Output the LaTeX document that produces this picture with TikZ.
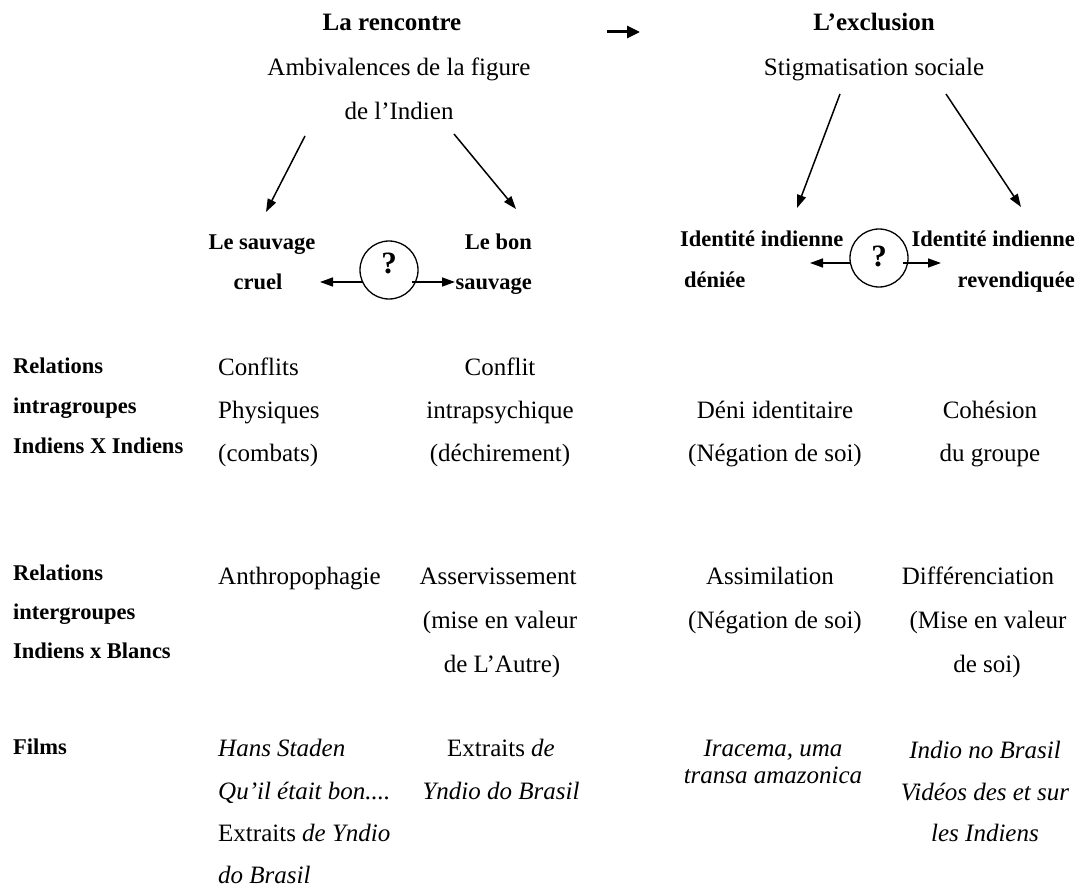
\documentclass[tikz,border=0pt]{standalone}
\usepackage{fontspec}
\setmainfont{Liberation Serif}
\usetikzlibrary{arrows.meta}
\begin{document}
\begin{tikzpicture}[x=1pt,y=-1pt,
  txt/.style={inner sep=0pt, anchor=base, font=\fontsize{25}{30}\selectfont},
  txtl/.style={txt, anchor=base west},
  ttl/.style={txt, font=\fontsize{25}{30}\selectfont\bfseries},
  lbl/.style={inner sep=0pt, anchor=base, font=\fontsize{22.5}{27}\selectfont\bfseries},
  rowlbl/.style={lbl, anchor=base west},
  ring/.style={draw, circle, line width=1.3pt, minimum size=#1, inner sep=0pt},
  qmark/.style={inner sep=0pt, font=\fontsize{31}{36}\selectfont\bfseries},
  arr/.style={-{Triangle[length=13pt,width=9pt]}, line width=1.5pt},
  harr/.style={-{Triangle[length=13pt,width=12pt]}, line width=3pt}
]
\useasboundingbox (0,0) rectangle (1085,888);

% titles
\node[ttl] (t1) at (392,31) {La rencontre};
\node[ttl] (t2) at (874,31) {L’exclusion};
\coordinate (h1) at (607,32);
\coordinate (h2) at (640,32);
\draw[harr] (h1) -- (h2);
\node[txt] (a1) at (399,76) {Ambivalences de la figure};
\node[txt] (a2) at (399,120) {de l’Indien};
\node[txt] (s1) at (874,76) {Stigmatisation sociale};

% diagonal arrows
\coordinate (d1s) at (305,136);
\coordinate (d1e) at (266,212);
\coordinate (d2s) at (454,134);
\coordinate (d2e) at (516,209);
\coordinate (d3s) at (840,94);
\coordinate (d3e) at (797,208);
\coordinate (d4s) at (946,94);
\coordinate (d4e) at (1021,207);
\draw[arr] (d1s) -- (d1e);
\draw[arr] (d2s) -- (d2e);
\draw[arr] (d3s) -- (d3e);
\draw[arr] (d4s) -- (d4e);

% bold labels
\node[lbl] (l1a) at (262,249) {Le sauvage};
\node[lbl] (l1b) at (258,289) {cruel};
\node[lbl, anchor=base east] (l2a) at (532,249) {Le bon};
\node[lbl, anchor=base east] (l2b) at (532,289) {sauvage};
\node[lbl, anchor=base west] (l3a) at (680,247) {Identité indienne};
\node[lbl, anchor=base west] (l3b) at (684,287) {déniée};
\node[lbl, anchor=base east] (l4a) at (1075,247) {Identité indienne};
\node[lbl, anchor=base east] (l4b) at (1075,287) {revendiquée};

% question circles
\node[ring=58pt] (c1) at (389,270) {};
\node[qmark] (q1) at ([yshift=7pt]c1.center) {?};
\node[ring=58pt] (c2) at (879,258) {};
\node[qmark] (q2) at ([yshift=2pt]c2.center) {?};
\coordinate (c1w) at ([xshift=-26pt,yshift=-12pt]c1.center);
\coordinate (c1e) at ([xshift=23pt,yshift=-12pt]c1.center);
\coordinate (c2w) at ([xshift=-29pt,yshift=-5pt]c2.center);
\coordinate (c2e) at ([xshift=24pt,yshift=-5pt]c2.center);
\coordinate (c1l) at (320,282);
\coordinate (c1r) at (455,282);
\coordinate (c2l) at (810,263);
\coordinate (c2r) at (941,263);
\draw[arr] (c1w) -- (c1l);
\draw[arr] (c1e) -- (c1r);
\draw[arr] (c2w) -- (c2l);
\draw[arr] (c2e) -- (c2r);

% row labels
\node[rowlbl] (r1a) at (13,373) {Relations};
\node[rowlbl] (r1b) at (13,413) {intragroupes};
\node[rowlbl] (r1c) at (13,453) {Indiens X Indiens};
\node[rowlbl] (r2a) at (13,580) {Relations};
\node[rowlbl] (r2b) at (13,619) {intergroupes};
\node[rowlbl] (r2c) at (13,658) {Indiens x Blancs};
\node[rowlbl] (r3a) at (13,754) {Films};

% row 1
\node[txtl] (p1) at (218,375) {Conflits};
\node[txtl] (p2) at (218,418) {Physiques};
\node[txtl] (p3) at (218,461) {(combats)};
\node[txt] (p4) at (500,375) {Conflit};
\node[txt] (p5) at (500,418) {intrapsychique};
\node[txt] (p6) at (500,461) {(déchirement)};
\node[txt] (p7) at (775,418) {Déni identitaire};
\node[txt] (p8) at (775,461) {(Négation de soi)};
\node[txt] (p9) at (990,418) {Cohésion};
\node[txt] (p10) at (990,461) {du groupe};

% row 2
\node[txtl] (e1) at (218,584) {Anthropophagie};
\node[txt] (e2) at (498,584) {Asservissement};
\node[txt] (e3) at (500,628) {(mise en valeur};
\node[txt] (e4) at (502,672) {de L’Autre)};
\node[txt] (e5) at (770,584) {Assimilation};
\node[txt] (e6) at (775,628) {(Négation de soi)};
\node[txt] (e7) at (978,584) {Différenciation};
\node[txt] (e8) at (988,628) {(Mise en valeur};
\node[txt] (e9) at (987,672) {de soi)};

% films
\node[txtl] (f1) at (218,756) {\itshape Hans Staden};
\node[txtl] (f2) at (218,799) {\itshape Qu’il était bon....};
\node[txtl] (f3) at (218,841) {Extraits \textit{de Yndio}};
\node[txtl] (f4) at (218,883) {\itshape do Brasil};
\node[txt] (f5) at (501,756) {Extraits \textit{de}};
\node[txt] (f6) at (501,799) {\itshape Yndio do Brasil};
\node[txt] (f7) at (773,756) {\itshape Iracema, uma};
\node[txt] (f8) at (773,783) {\itshape transa amazonica};
\node[txt] (f9) at (985,758) {\itshape Indio no Brasil};
\node[txt] (f10) at (985,800) {\itshape Vidéos des et sur};
\node[txt] (f11) at (985,841) {\itshape les Indiens};
\end{tikzpicture}
\end{document}
